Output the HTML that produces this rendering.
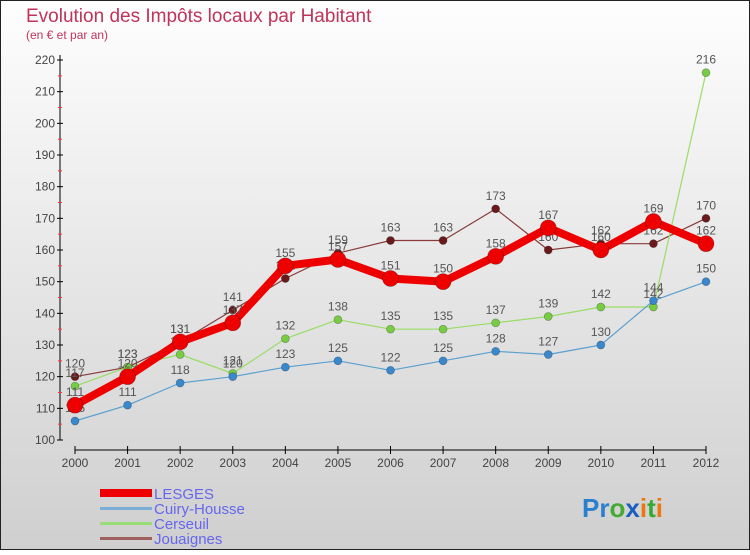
<!DOCTYPE html>
<html><head><meta charset="utf-8"><style>
body{margin:0}
#c{width:750px;height:550px;position:relative;font-family:"Liberation Sans",sans-serif}
</style></head><body>
<div id="c">
<svg id="s" width="750" height="550" xmlns="http://www.w3.org/2000/svg">
<defs><linearGradient id="bg" x1="0" y1="0" x2="0" y2="1"><stop offset="0" stop-color="#fefefe"/><stop offset="1" stop-color="#cfcfcf"/></linearGradient></defs>
<rect x="0.5" y="0.5" width="749" height="549" fill="url(#bg)" stroke="#222"/>
<text x="26" y="22" font-size="19" fill="#c0335a">Evolution des Impôts locaux par Habitant</text>
<text x="26" y="39" font-size="12" fill="#c0335a">(en € et par an)</text>
<g id="axes"></g><g id="series"></g>
<g font-size="15" fill="#6666ee">
<rect x="100" y="489" width="52" height="8" fill="#ee0000"/>
<text x="154" y="499">LESGES</text>
<rect x="100" y="507" width="52" height="3" fill="#7aaed6"/>
<text x="154" y="514">Cuiry-Housse</text>
<rect x="100" y="522" width="52" height="3" fill="#99dd77"/>
<text x="154" y="529">Cerseuil</text>
<rect x="100" y="537" width="52" height="3" fill="#a06060"/>
<text x="154" y="544">Jouaignes</text>
</g>
<text x="582" y="517" font-size="26" font-weight="bold"><tspan fill="#2a7fcf">Pr</tspan><tspan fill="#44aa33">o</tspan><tspan fill="#1a5fbf">x</tspan><tspan fill="#ee7711">i</tspan><tspan fill="#33aa33">t</tspan><tspan fill="#ee7711">i</tspan></text>
</svg></div>
<script>
const years=[2000,2001,2002,2003,2004,2005,2006,2007,2008,2009,2010,2011,2012];
const lesges=[111,120,131,137,155,157,151,150,158,167,160,169,162];
const cuiry=[106,111,118,120,123,125,122,125,128,127,130,144,150];
const cerseuil=[117,123,127,121,132,138,135,135,137,139,142,142,216];
const jouaignes=[120,123,131,141,151,159,163,163,173,160,162,162,170];
const yTicks=[100,110,120,130,140,150,160,170,180,190,200,210,220];
const NS="http://www.w3.org/2000/svg";
const X=i=>75+i*(706-75)/(years.length-1);
const Y=v=>440-(v-100)*(380/120);
function mk(t,a,p){const e=document.createElementNS(NS,t);for(const k in a)e.setAttribute(k,a[k]);p.appendChild(e);return e;}
const ax=document.getElementById('axes');
const yl=mk('line',{x1:60,y1:55,x2:60,y2:440,stroke:'#000'},ax);


yTicks.forEach(v=>{
 mk('line',{x1:57,x2:63,y1:Y(v),y2:Y(v),stroke:'#000'},ax);
 if(v<220)mk('line',{x1:58,x2:62,y1:Y(v+5),y2:Y(v+5),stroke:'#f33'},ax);
 const t=mk('text',{x:55,y:Y(v)+4,'text-anchor':'end','font-size':12,fill:'#444'},ax);
 t.textContent=v;
 
 
});
const xl=mk('line',{x1:75,y1:450,x2:706,y2:450,stroke:'#000'},ax);


years.forEach((y,i)=>{
 mk('line',{x1:X(i),x2:X(i),y1:446,y2:454,stroke:'#000'},ax);
 const t=mk('text',{x:X(i),y:467,'text-anchor':'middle','font-size':12,fill:'#444'},ax);
 t.textContent=y;
 
 
});
const sg=document.getElementById('series');
function draw(vals,name,color,dot,w,r){
 const g=mk('g',{},sg);
 
 
 const pl=mk('polyline',{points:vals.map((v,i)=>X(i)+','+Y(v)).join(' '),fill:'none',stroke:color,'stroke-width':w,'stroke-linejoin':'round'},g);
 
 
 vals.forEach((v,i)=>{
  const c=mk('circle',{cx:X(i),cy:Y(v),r:r,fill:dot,stroke:'rgba(0,0,0,0.3)','stroke-width':0.7},g);
  
  
  const t=mk('text',{x:X(i),y:Y(v)-9,'text-anchor':'middle','font-size':12,fill:'#555'},g);
  t.textContent=v;
  
  
 });
}
draw(jouaignes,'jouaignes','#8a3a3a','#6a1a1a',1.2,4);
draw(cerseuil,'cerseuil','#99dd66','#77cc44',1.2,4);
draw(cuiry,'cuiry-housse','#5aa0d0','#3a88cc',1.2,4);
draw(lesges,'lesges','#ee0000','#ee0000',8,8);
</script>
</body></html>
